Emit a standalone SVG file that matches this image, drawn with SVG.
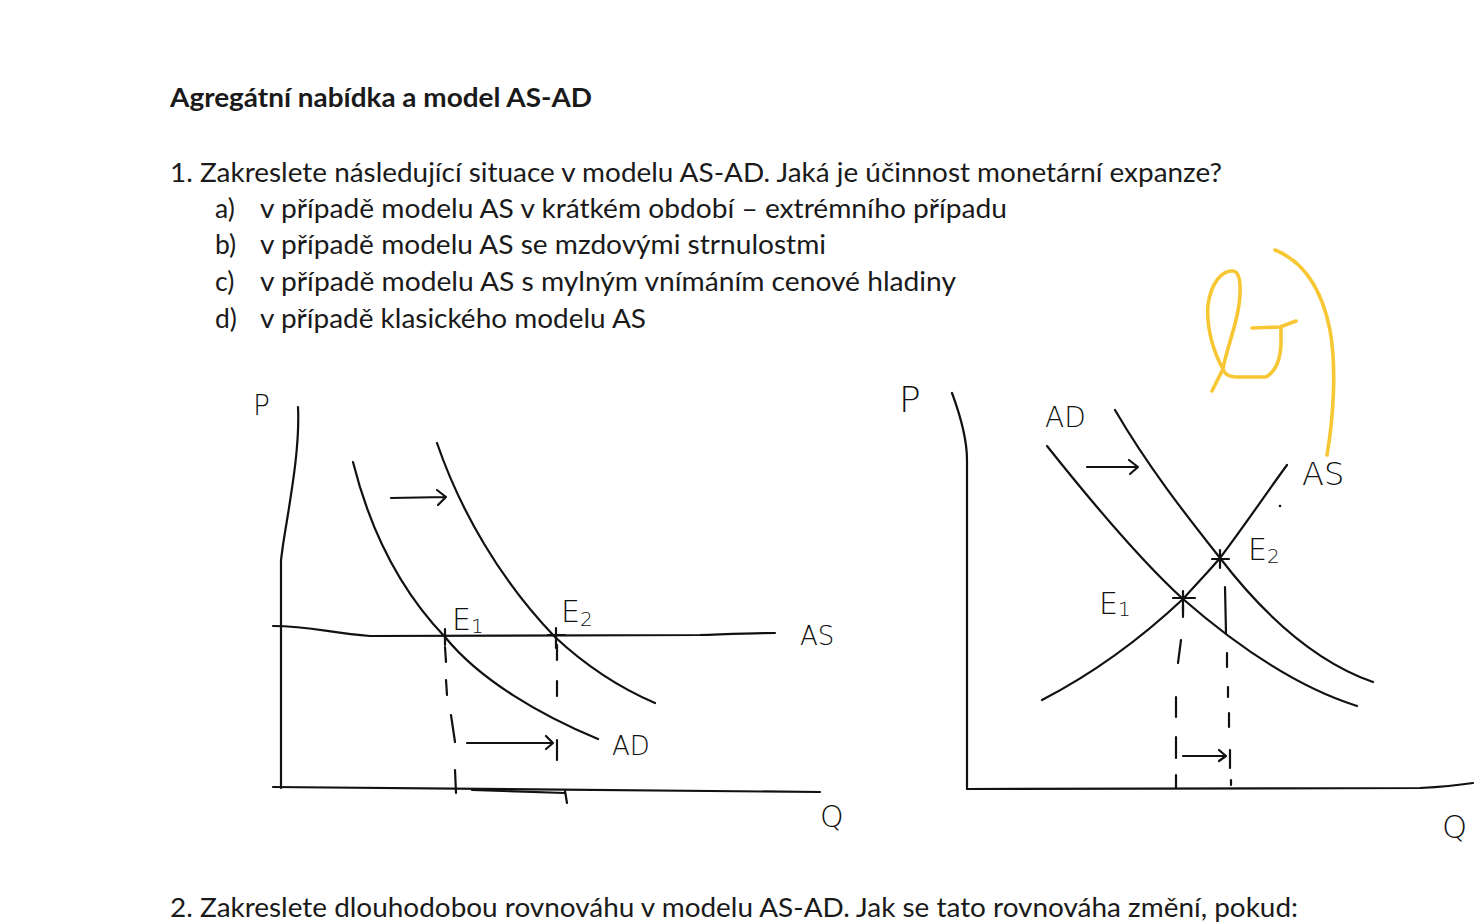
<svg xmlns="http://www.w3.org/2000/svg" width="1475" height="923" viewBox="0 0 1475 923">
<style>
.t{font-family:Lato,"Open Sans","Liberation Sans",sans-serif;fill:#1a1a1a;font-size:26.5px}
.h{font-family:"DejaVu Sans","Liberation Sans",sans-serif;font-weight:200;fill:#111}
.ln{fill:none;stroke:#111;stroke-width:2.2;stroke-linecap:round;stroke-linejoin:round}
.y{fill:none;stroke:#F6C733;stroke-width:3.6;stroke-linecap:round;stroke-linejoin:round}
</style>
<rect width="1475" height="923" fill="#ffffff"/>
<g id="text">
<text class="t" x="170" y="107" font-weight="bold" textLength="422" lengthAdjust="spacingAndGlyphs">Agregátní nabídka a model AS-AD</text>
<text class="t" x="170" y="182" textLength="1052" lengthAdjust="spacingAndGlyphs">1. Zakreslete následující situace v modelu AS-AD. Jaká je účinnost monetární expanze?</text>
<text class="t" x="215" y="218">a)</text><text class="t" x="260" y="218" textLength="747" lengthAdjust="spacingAndGlyphs">v případě modelu AS v krátkém období – extrémního případu</text>
<text class="t" x="215" y="254">b)</text><text class="t" x="260" y="254" textLength="566" lengthAdjust="spacingAndGlyphs">v případě modelu AS se mzdovými strnulostmi</text>
<text class="t" x="215" y="291">c)</text><text class="t" x="260" y="291" textLength="696" lengthAdjust="spacingAndGlyphs">v případě modelu AS s mylným vnímáním cenové hladiny</text>
<text class="t" x="215" y="328">d)</text><text class="t" x="260" y="328" textLength="386" lengthAdjust="spacingAndGlyphs">v případě klasického modelu AS</text>
<text class="t" x="170" y="917" textLength="1128" lengthAdjust="spacingAndGlyphs">2. Zakreslete dlouhodobou rovnováhu v modelu AS-AD. Jak se tato rovnováha změní, pokud:</text>
</g>
<g id="graph-left">
<path class="ln" d="M298,407 C300,450 290,500 283,545 L281,560 L281,788"/>
<path class="ln" d="M273,787 L820,792"/>
<path class="ln" stroke-width="3.5" d="M472,790 L565,793"/>
<path class="ln" d="M565,791 L567,803"/>
<path class="ln" d="M273,626 C310,626 330,633 370,636 L700,635 C730,634 750,633 775,633"/>
<path class="ln" d="M353,462 C370,530 400,590 445,637 C480,680 540,715 598,739"/>
<path class="ln" d="M437,443 C460,510 500,580 555,637 C585,665 620,688 655,703"/>
<path class="ln" d="M391,498 L446,497 M437,490 L446,497 L438,505"/>
<path class="ln" d="M445,629 L445,645 M556,628 L556,648 M548,635 L565,635"/>
<path class="ln" d="M445,647 L446,662 M446,680 L447,695 M451,715 L455,742 M455,770 L456,793"/>
<path class="ln" d="M557,645 L557,660 M557,681 L557,696 M557,740 L557,760"/>
<path class="ln" d="M467,743 L553,743 M546,736 L553,743 L546,749"/>
<text class="h" x="253" y="415" font-size="28">P</text>
<text class="h" x="452" y="630" font-size="30">E<tspan font-size="20" dy="3">1</tspan></text>
<text class="h" x="561" y="622" font-size="30">E<tspan font-size="20" dy="4">2</tspan></text>
<text class="h" x="800" y="645" font-size="26">AS</text>
<text class="h" x="612" y="755" font-size="26">AD</text>
<text class="h" x="820" y="827" font-size="30">Q</text>
</g>
<g id="graph-right">
<path class="ln" d="M952,393 C962,420 967,440 967,460 L967,789"/>
<path class="ln" d="M967,789 L1420,788 C1440,787 1460,785 1473,783"/>
<path class="ln" d="M1047,446 C1090,500 1140,560 1183,599 C1230,640 1290,685 1357,706"/>
<path class="ln" d="M1115,410 C1150,470 1190,520 1220,558 C1260,610 1310,660 1373,682"/>
<path class="ln" d="M1042,700 C1100,670 1150,630 1183,599 C1200,580 1210,570 1220,558 C1245,525 1265,495 1287,465"/>
<path class="ln" d="M1087,467 L1138,467 M1129,460 L1138,467 L1130,474"/>
<path class="ln" d="M1183,591 L1183,612 M1173,598 L1195,598 M1220,550 L1220,568 M1212,559 L1229,559"/>
<path class="ln" d="M1183,605 L1183,617 M1181,640 L1178,663 M1176,697 L1176,717 M1176,737 L1176,758 M1176,775 L1176,788"/>
<path class="ln" d="M1225,587 L1226,633 M1227,653 L1227,667 M1228,687 L1228,697 M1229,713 L1229,727 M1230,750 L1230,768 M1231,780 L1231,785"/>
<path class="ln" d="M1183,756 L1226,756 M1219,750 L1226,756 L1219,761"/>
<circle cx="1280" cy="506" r="1.3" fill="#111"/>
<text class="h" x="899" y="412" font-size="36">P</text>
<text class="h" x="1045" y="427" font-size="28">AD</text>
<text class="h" x="1302" y="485" font-size="32">AS</text>
<text class="h" x="1099" y="614" font-size="30">E<tspan font-size="20" dy="2">1</tspan></text>
<text class="h" x="1248" y="560" font-size="30">E<tspan font-size="20" dy="3">2</tspan></text>
<text class="h" x="1442" y="838" font-size="32">Q</text>
</g>
<g id="annotation">
<path class="y" d="M1212,391 L1223,369 C1215,355 1206,330 1208,305 C1211,283 1222,270 1233,271 C1243,272 1241,300 1236,320 C1231,340 1224,360 1223,369 C1226,378 1235,377 1245,377 L1266,377 C1275,372 1280,362 1281,345 L1281,328"/>
<path class="y" d="M1252,328 L1280,327 L1296,321"/>
<path class="y" d="M1275,250 C1305,262 1322,290 1330,330 C1337,370 1333,420 1327,455"/>
</g>
</svg>
